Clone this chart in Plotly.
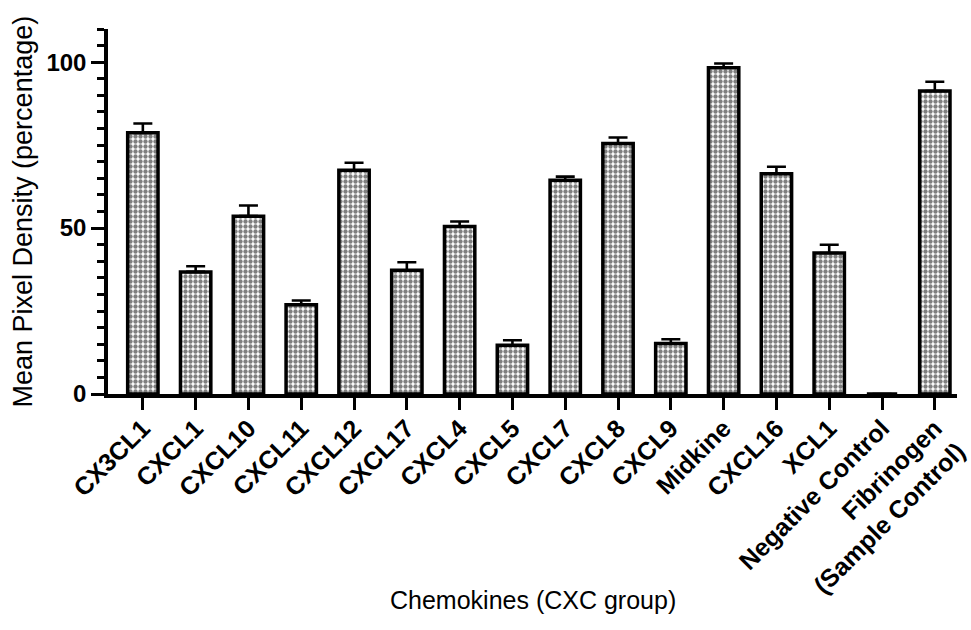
import plotly.graph_objects as go

# Mean pixel density per chemokine (percent of reference spot) with SEM
categories = [
    "CX3CL1", "CXCL1", "CXCL10", "CXCL11", "CXCL12", "CXCL17", "CXCL4",
    "CXCL5", "CXCL7", "CXCL8", "CXCL9", "Midkine", "CXCL16", "XCL1",
    "Negative Control", "Fibrinogen<br>(Sample Control)",
]
means = [78.7, 36.8, 53.6, 26.9, 67.4, 37.3, 50.5,
         14.7, 64.4, 75.5, 15.2, 98.3, 66.4, 42.5,
         0.0, 91.3]
sem = [2.8, 1.7, 3.2, 1.3, 2.3, 2.4, 1.5,
       1.5, 1.1, 1.8, 1.3, 1.3, 2.1, 2.5,
       None, 2.8]

FONT = "Liberation Sans"

fig = go.Figure()
fig.add_trace(go.Bar(
    x=categories,
    y=means,
    width=0.575,
    marker=dict(
        color="white",
        line=dict(color="black", width=3.5),
        pattern=dict(shape=".", fgcolor="black", bgcolor="white",
                     size=5, solidity=0.6),
    ),
    error_y=dict(
        type="data", symmetric=False, array=sem,
        arrayminus=[0 if s is not None else None for s in sem],
        color="black", thickness=2.6, width=9.5,
    ),
))

fig.update_layout(
    width=971, height=630,
    margin=dict(l=108, r=1, t=29, b=236),
    paper_bgcolor="white", plot_bgcolor="white",
    showlegend=False,
    font=dict(family=FONT, color="black"),
)

fig.update_xaxes(
    range=[-0.66, 15.42],
    showline=True, linecolor="black", linewidth=3.5,
    ticks="outside", ticklen=12, tickwidth=3, tickcolor="black",
    tickangle=-45, ticklabelstandoff=-6,
    tickfont=dict(family=FONT, size=25, weight="bold", color="black"),
    showgrid=False, zeroline=False,
)

fig.update_yaxes(
    range=[0, 110],
    tickvals=[0, 50, 100],
    showline=True, linecolor="black", linewidth=3.5,
    ticks="outside", ticklen=13, tickwidth=3, tickcolor="black",
    minor=dict(dtick=5, ticks="outside", ticklen=7, tickwidth=3,
               tickcolor="black", showgrid=False),
    tickfont=dict(family=FONT, size=24, weight="bold", color="black"),
    showgrid=False, zeroline=False,
)

# Axis titles
fig.add_annotation(
    text="Mean Pixel Density (percentage)",
    xref="paper", yref="paper", x=0.0, y=0.5,
    xanchor="center", yanchor="middle",
    xshift=-86, textangle=-90, showarrow=False,
    font=dict(family=FONT, size=27, color="black"),
)
fig.add_annotation(
    text="Chemokines (CXC group)",
    xref="paper", yref="paper", x=0.5, y=0,
    xanchor="center", yanchor="middle",
    yshift=-206, showarrow=False,
    font=dict(family=FONT, size=25, color="black"),
)

fig.write_html("out.html")
